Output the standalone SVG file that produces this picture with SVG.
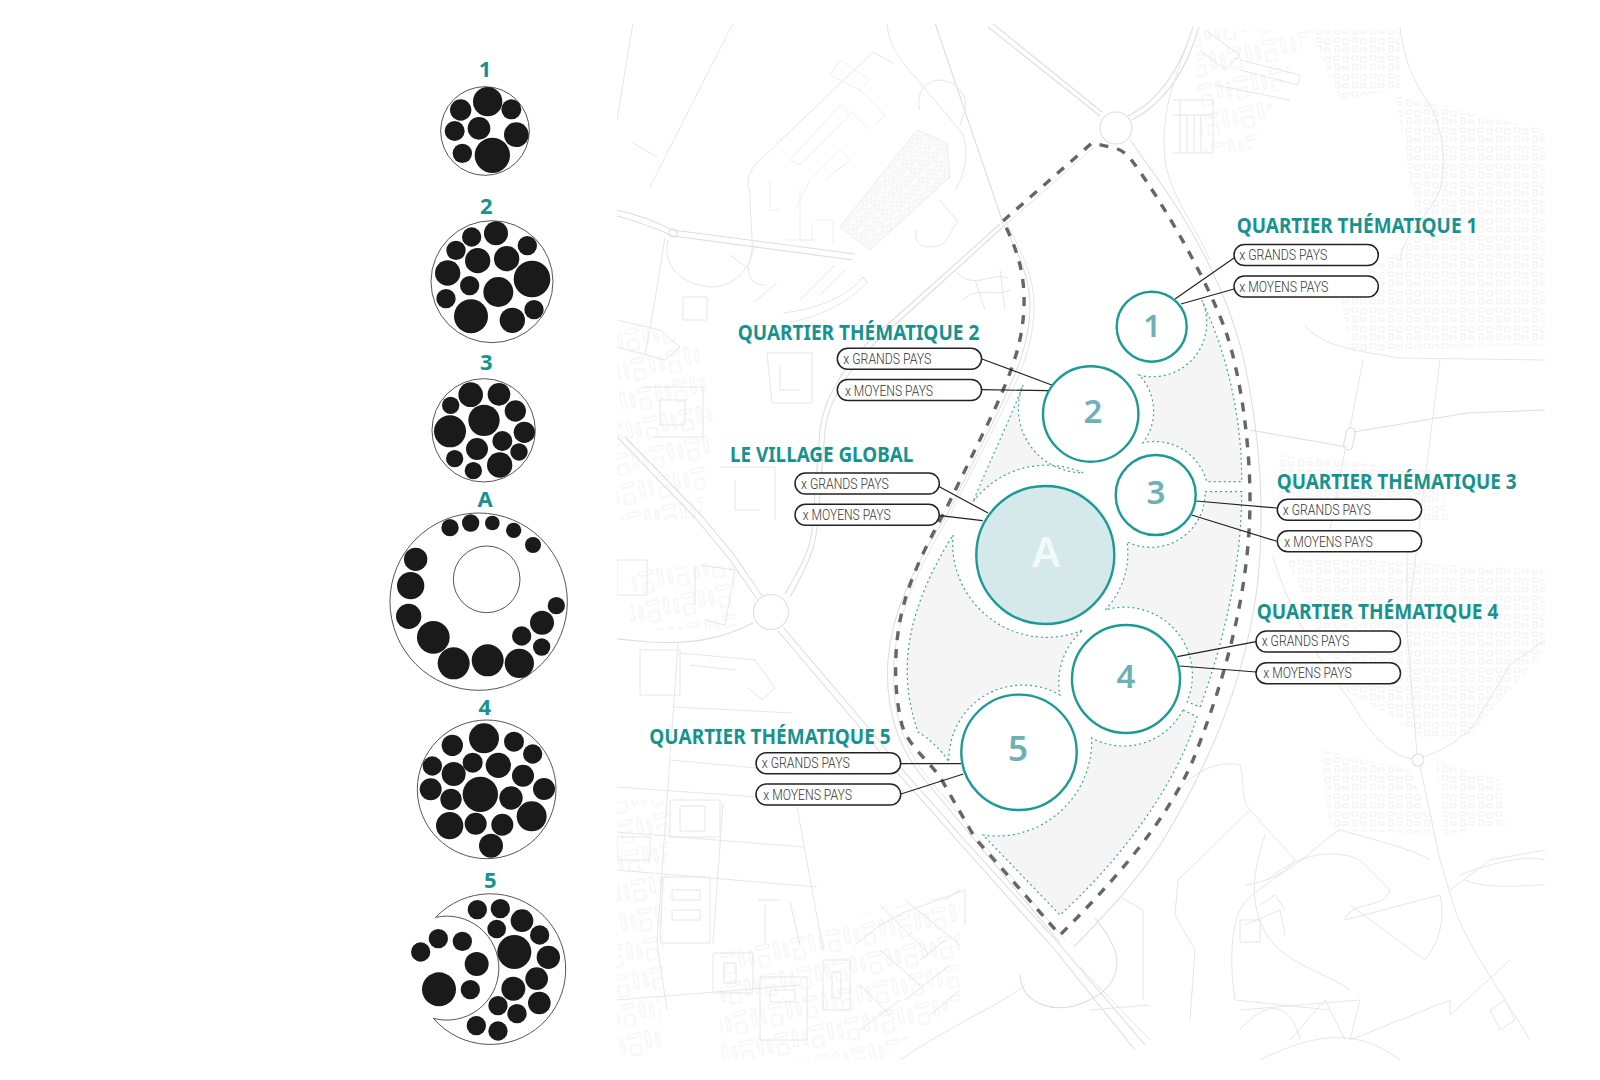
<svg xmlns="http://www.w3.org/2000/svg" width="1600" height="1080" viewBox="0 0 1600 1080">
<style>
.map{fill:none;stroke:#e6e6e6;stroke-width:1}
.road{fill:none;stroke:#dedede;stroke-width:1.1}
.fine{fill:none;stroke:#f0f0f0;stroke-width:1}
.h{font-family:"Noto Sans","Liberation Sans",sans-serif;font-weight:700;font-size:20.5px;fill:#16938f}
.lab{font-family:"Noto Sans","Liberation Sans",sans-serif;font-weight:700;font-size:66px;fill:#16938f;text-anchor:middle}
.p{font-family:Roboto,"Liberation Sans",sans-serif;font-weight:300;font-size:14px;fill:#333}
.pill{fill:#fff;stroke:#222;stroke-width:1.5}
.c{fill:#fff;stroke:#1b9a96;stroke-width:2.4}
.n{font-family:"Noto Sans","Liberation Sans",sans-serif;font-weight:600;fill:#6db1b5;text-anchor:middle}
.reg{fill:#f5f5f5;stroke:#3fa39f;stroke-width:1.2;stroke-dasharray:2 3}
.ln{stroke:#222;stroke-width:1.2;fill:none}
.o{fill:#fff;stroke:#555;stroke-width:3}
.d{fill:#1a1a1a}
</style>
<defs>
<clipPath id="crop"><rect x="617" y="24" width="928" height="1036"/></clipPath>
<pattern id="b1" width="18" height="18" patternUnits="userSpaceOnUse"><path class="fine" d="M2 2h6v4h-6zM11 3h5v5h-5zM3 10h4v6h-4zM10 12h6v3h-6z"/></pattern>
<pattern id="b2" width="12" height="12" patternUnits="userSpaceOnUse" patternTransform="rotate(-42)"><path class="fine" d="M1 1h10v4h-10zM1 7h4v4h-4zM7 7h4v4h-4z"/></pattern>
<pattern id="b3" width="36" height="30" patternUnits="userSpaceOnUse" patternTransform="rotate(-12)"><path class="fine" d="M2 3h13v4h-13zM20 3h4v16h-4zM3 14h10v10h-10zM30 6h3v14h-3z"/></pattern>
</defs>
<rect width="1600" height="1080" fill="#fff"/>

<g id="map" clip-path="url(#crop)">
<g>
<polygon fill="url(#b1)" points="1395,95 1460,110 1545,130 1545,345 1350,352 1340,290 1420,235"/>
<polygon fill="url(#b1)" points="1280,455 1433,470 1450,520 1275,522"/>
<polygon fill="url(#b1)" points="1285,555 1545,570 1545,650 1470,735 1430,740 1345,690"/>
<polygon fill="url(#b1)" points="1320,750 1410,770 1435,835 1330,830"/>
<polygon fill="url(#b1)" points="1435,760 1500,780 1505,825 1445,835"/>
<polygon fill="url(#b2)" stroke="#ececec" points="840,227 870,250 950,177 947,143 917,130"/>
<polygon fill="url(#b3)" points="617,320 700,345 715,420 700,520 617,520"/>
<polygon fill="url(#b3)" points="617,800 670,800 660,1060 617,1060"/>
<polygon fill="url(#b3)" points="720,950 960,890 960,1000 880,1060 720,1060"/>
<polygon fill="url(#b3)" points="630,565 735,565 735,630 630,630"/>
<polygon fill="url(#b3)" points="1195,30 1310,30 1250,150 1200,155"/>
<polygon fill="url(#b1)" points="1310,30 1400,30 1400,90 1340,100"/>
</g>
<g>
<path class="road" d="M992 23L1102 112M988 27L1100 116"/>
<circle class="road" cx="1116" cy="128" r="16"/>
<path class="road" d="M1128 116C1160 100 1180 70 1193 27M1132 120C1165 103 1186 72 1199 27"/>
<path class="road" d="M1130 140L1160 182C1195 232 1232 300 1246 370C1260 440 1265 510 1258 580C1248 670 1212 760 1162 842C1132 888 1102 917 1074 947"/>
<path class="map" d="M1193 27C1175 80 1160 110 1165 160C1170 195 1195 225 1210 260"/>
<path class="map" d="M1005 225L1094 147"/>
<path class="road" d="M1000 224L895 318C855 350 825 390 820 430L813 520C812 545 805 560 785 594M1003 227L898 322C860 354 830 392 825 430L818 520C816 545 810 562 790 597"/>
<path class="road" d="M1002 222C1020 255 1030 280 1030 305C1030 345 1015 375 998 412L947 515C915 565 892 610 888 660C885 705 895 745 925 780L1060 943"/>
<path class="map" d="M1006 222C1024 255 1034 280 1034 305C1034 345 1020 375 1002 412L950 515C920 565 898 610 894 660C891 705 900 745 930 780L1065 940"/>
<path class="road" d="M935 23L1002 220"/>
<path class="map" d="M887 23C888 38 893 50 905 65L962 133C970 150 965 175 955 190"/>
<circle class="road" cx="771" cy="612" r="17.5"/>
<path class="road" d="M757 599L730 560L697 520L617 437M762 596L735 556L702 516L625 437"/>
<path class="road" d="M753 623C720 640 690 644 650 642L617 639"/>
<path class="road" d="M783 627L873 733C900 770 935 805 960 835L1060 945L1145 1045M778 631L868 737C895 773 930 808 955 838L1055 950L1135 1050"/>
<path class="map" d="M1080 967L1150 1040"/>
<path class="road" d="M617 210C640 215 655 222 673 230L855 254M617 216C640 222 655 228 673 236L853 260"/>
<circle class="road" cx="673" cy="233" r="4"/>
<path class="map" d="M668 240C662 265 680 285 712 287C740 285 750 265 755 245M665 237L655 300L645 355"/>
<path class="map" d="M617 120L633 23M650 187L733 23M633 143L657 157"/>
<path class="map" d="M750 193C745 180 750 170 757 163L873 52L893 63M750 193C750 230 755 245 750 260C745 275 752 285 765 285"/>
<path class="fine" d="M790 160L840 105L850 115L800 165zM840 60L870 80L860 90L830 75zM813 177L840 150L850 160L825 180M795 210L810 180M770 180v30h10M800 190v50h12v-15M785 240h30M815 220h18v25M860 90l25 25-10 10M850 110l20 20"/>
<path class="map" d="M920 110C915 95 925 80 940 80C958 82 968 95 965 110L960 125"/>
<path class="map" d="M917 230C912 245 925 250 940 245C950 240 950 230 958 222L940 200"/>
<path class="map" d="M957 273C975 290 990 272 1008 278M962 300C980 285 995 298 1010 290M975 280L985 310M1000 270L1005 310"/>
<path class="map" d="M683 297h24v23h-24zM753 303L777 283M730 255l20 15M783 313C810 310 845 300 863 277L867 283C845 305 815 318 790 322M800 300L835 265M820 295L845 270"/>
<path class="map" d="M617 320L660 330L680 347L665 360L617 347M643 387h60v50h-50M660 400v25h25v-25zM767 353h45v50h-40zM780 365v25h20M720 467h55v53M735 480v30h25"/>
<path class="map" d="M678 643L657 943L667 1010M723 803L713 943M617 787L800 800M617 832L803 847M617 870L817 887M797 807L823 950M673 707L793 713M670 760L800 772M617 1000L800 985"/>
<path class="map" d="M640 650h40v45h-40zM680 653L755 660L775 688L762 700L748 688M690 665L735 670M617 560h30v35h-30zM695 565v40M700 565L735 570L725 625L705 620"/>
<path class="map" d="M670 800h50v37h-50zM680 806h25v25h-25zM663 877h47v66h-50zM672 890h28v10h-28zM672 910h28v10h-28zM617 837h33v23h-33zM713 953h40v40h-40zM724 963h12v20h-12zM760 977h47v63h-47zM770 990h25v12h-25zM823 960h27v50h-27zM832 972h9v26h-9zM758 900h22M765 905v40M790 902L800 945M855 945L880 925L905 912L965 890L965 925"/>
<path class="map" d="M880 905L930 955M905 900L960 945M880 950L920 985M860 985L895 1020M920 960L945 940M905 1000L950 965M930 1015L960 990M860 1030L900 1000M945 900L960 890"/>
<path class="road" d="M1020 975C1022 1005 1055 1015 1085 1002C1115 990 1125 965 1110 940C1105 930 1100 925 1095 918"/>
<path class="map" d="M1025 985C1000 1005 960 1020 900 1060M1090 1010L1150 1005"/>
<path class="road" d="M1250 430L1347 447M1353 432L1467 413L1545 410"/>
<rect class="road" x="1345" y="428" width="9" height="22" rx="4" transform="rotate(12 1350 439)"/>
<path class="map" d="M1363 360L1350 428M1345 450L1330 530M1400 27C1405 70 1420 90 1433 110C1445 140 1445 165 1440 190C1430 215 1405 230 1400 260"/>
<path class="map" d="M1305 325C1320 345 1350 350 1400 358L1545 360M1440 360L1420 520L1407 630"/>
<path class="map" d="M1173 100h40v53h-40M1180 100v53M1187 115v38M1194 115v38M1201 115v38M1173 115h40M1240 60L1300 75L1298 85L1240 70M1215 85L1290 100M1205 30L1240 55L1225 70L1200 50"/>
<circle class="road" cx="1418" cy="760" r="6"/>
<path class="map" d="M1273 557C1290 610 1310 650 1350 700C1370 735 1390 755 1412 759M1423 757C1445 750 1470 735 1480 715L1510 665L1545 640M1417 754L1407 630L1407 553M1420 766L1440 860L1455 910C1470 950 1500 990 1530 1040"/>
<path class="map" d="M1120 897L1143 910L1143 1000M1173 800C1190 770 1220 760 1240 765C1245 780 1240 800 1250 810L1178 880L1175 915L1195 950L1190 1020M1250 810L1295 860M1295 860C1280 880 1250 890 1240 910C1230 930 1230 970 1235 1000L1330 1010M1245 885C1290 880 1320 840 1340 830C1375 840 1415 850 1430 860"/>
<path class="map" d="M1265 835C1250 880 1250 910 1270 940C1290 965 1330 975 1350 990M1268 880C1300 850 1340 850 1360 860L1390 890C1385 910 1350 900 1345 920L1440 895C1445 920 1440 940 1425 960L1350 905"/>
<path class="map" d="M1240 1010L1360 1000L1350 1040L1450 1000L1450 1015M1450 890L1490 860L1545 850M1460 875C1500 860 1530 855 1545 860M1465 880C1490 890 1520 885 1545 885"/>
<path class="map" d="M1240 1030C1265 1000 1290 1000 1300 1040M1290 1040L1325 1000L1345 1040M1260 1060C1320 1030 1360 1030 1400 1060M1450 1015L1510 960M1490 1010L1505 1000L1515 1020L1500 1030z"/>
<path class="map" d="M1240 920h20v22h-20zM1245 925L1280 910L1285 935M1260 905L1275 895L1285 910"/>
</g>
</g>

<g id="zones">
<path class="reg" d="M1201.7 300A54 54 0 0 1 1139 375A52 52 0 0 1 1143 442.7A54 54 0 0 1 1206.7 481.7L1241.7 481.7C1242 420 1228 355 1201.7 300Z"/>
<path class="reg" d="M1205 491.7L1241.7 491.7C1242 560 1225 640 1200 707L1187 701.7A68 68 0 0 0 1105 610A82 82 0 0 0 1127 541.7A54 54 0 0 0 1205 491.7Z"/>
<path class="reg" d="M953 535A94 94 0 0 0 1083 630A68 68 0 0 0 1060 695A74 74 0 0 0 949 762C940 748 928 738 918 732C900 680 900 620 953 535Z"/>
<path class="reg" d="M1183 710L1197 716.7C1175 790 1115 865 1060 915L983 835A95 95 0 0 0 1091.7 738A67 67 0 0 0 1183 710Z"/>
<path class="reg" d="M1023 385A64 64 0 0 0 1083 472.7A92 92 0 0 0 973 502C990 460 1010 420 1023 385Z"/>
</g>

<path id="boundary" fill="none" stroke="#666" stroke-width="3.4" stroke-dasharray="9 9" d="M1003 221L1092 143L1115 148Q1124 151 1130 158C1165 205 1210 285 1227 335C1240 375 1250 440 1250 500C1250 590 1225 680 1193 760C1165 825 1110 885 1060 935L975 838L940 777C925 757 908 745 902 725C893 690 893 640 905 600C915 565 935 530 947 507L993 413C1010 375 1023 345 1024 305C1025 270 1015 245 1003 221"/>

<g id="connectors">
<path class="ln" d="M1234 258L1175 299M1234 289L1181 304"/>
<path class="ln" d="M982 359L1051.7 385M981.7 389.7L1048 390.7"/>
<path class="ln" d="M939.3 486.7L988 513M940 515.7L982.7 520.7"/>
<path class="ln" d="M1277 508L1196 501M1276.7 541.3L1191.7 515"/>
<path class="ln" d="M1256 641.7L1177.3 656.7M1256 672L1180 666"/>
<path class="ln" d="M901 763.7L961 763.7M901 794L963.3 774"/>
</g>

<g id="node-1"><circle class="c" cx="1151.7" cy="326.7" r="35"/><text class="n" x="1152" y="337" font-size="31">1</text></g>
<g id="node-2"><circle class="c" cx="1090.7" cy="414" r="47.7"/><text class="n" x="1093" y="423" font-size="33">2</text></g>
<g id="node-3"><circle class="c" cx="1155.7" cy="495" r="40"/><text class="n" x="1156" y="504" font-size="33">3</text></g>
<g id="node-A"><circle class="c" cx="1045.3" cy="555" r="69" style="fill:#d5e9ea"/><text class="n" x="1046" y="567" font-size="42" style="fill:#f3f9f9">A</text></g>
<g id="node-4"><circle class="c" cx="1126" cy="679" r="54"/><text class="n" x="1126" y="688" font-size="33">4</text></g>
<g id="node-5"><circle class="c" cx="1019" cy="752.3" r="57.7"/><text class="n" x="1018" y="761" font-size="35">5</text></g>

<g id="label-1">
<text class="h" x="1236.7" y="232.7" textLength="240.6" lengthAdjust="spacingAndGlyphs">QUARTIER THÉMATIQUE 1</text>
<rect class="pill" x="1234" y="244.5" width="144.3" height="21" rx="10.5"/><text class="p" x="1239.3" y="260" textLength="88" lengthAdjust="spacingAndGlyphs">x GRANDS PAYS</text>
<rect class="pill" x="1234" y="276" width="144.3" height="21" rx="10.5"/><text class="p" x="1239.3" y="291.7" textLength="89" lengthAdjust="spacingAndGlyphs">x MOYENS PAYS</text>
</g>
<g id="label-2">
<text class="h" x="737.7" y="340" textLength="241.6" lengthAdjust="spacingAndGlyphs">QUARTIER THÉMATIQUE 2</text>
<rect class="pill" x="837.3" y="348.3" width="144.3" height="21" rx="10.5"/><text class="p" x="843.3" y="364" textLength="88" lengthAdjust="spacingAndGlyphs">x GRANDS PAYS</text>
<rect class="pill" x="837.3" y="379.5" width="144.3" height="21" rx="10.5"/><text class="p" x="845" y="395.7" textLength="88" lengthAdjust="spacingAndGlyphs">x MOYENS PAYS</text>
</g>
<g id="label-A">
<text class="h" x="730" y="461.7" textLength="183.3" lengthAdjust="spacingAndGlyphs">LE VILLAGE GLOBAL</text>
<rect class="pill" x="795" y="473" width="144.3" height="21" rx="10.5"/><text class="p" x="801" y="489" textLength="87.7" lengthAdjust="spacingAndGlyphs">x GRANDS PAYS</text>
<rect class="pill" x="795" y="504.3" width="144.3" height="21" rx="10.5"/><text class="p" x="802.7" y="520" textLength="88" lengthAdjust="spacingAndGlyphs">x MOYENS PAYS</text>
</g>
<g id="label-3">
<text class="h" x="1276.7" y="489.3" textLength="240" lengthAdjust="spacingAndGlyphs">QUARTIER THÉMATIQUE 3</text>
<rect class="pill" x="1277.3" y="499.3" width="144.3" height="21" rx="10.5"/><text class="p" x="1282.7" y="515" textLength="88" lengthAdjust="spacingAndGlyphs">x GRANDS PAYS</text>
<rect class="pill" x="1277.3" y="530.8" width="144.3" height="21" rx="10.5"/><text class="p" x="1284.3" y="546.7" textLength="88.4" lengthAdjust="spacingAndGlyphs">x MOYENS PAYS</text>
</g>
<g id="label-4">
<text class="h" x="1256.7" y="619" textLength="241.6" lengthAdjust="spacingAndGlyphs">QUARTIER THÉMATIQUE 4</text>
<rect class="pill" x="1256" y="631" width="144.5" height="21" rx="10.5"/><text class="p" x="1261.7" y="646.3" textLength="87.6" lengthAdjust="spacingAndGlyphs">x GRANDS PAYS</text>
<rect class="pill" x="1256" y="662.7" width="144.5" height="21" rx="10.5"/><text class="p" x="1263.3" y="678" textLength="88.4" lengthAdjust="spacingAndGlyphs">x MOYENS PAYS</text>
</g>
<g id="label-5">
<text class="h" x="649.3" y="744" textLength="241.4" lengthAdjust="spacingAndGlyphs">QUARTIER THÉMATIQUE 5</text>
<rect class="pill" x="756" y="752.7" width="144.7" height="21" rx="10.5"/><text class="p" x="761.7" y="768.3" textLength="88" lengthAdjust="spacingAndGlyphs">x GRANDS PAYS</text>
<rect class="pill" x="756" y="784" width="144.7" height="21" rx="10.5"/><text class="p" x="763.3" y="800" textLength="88.7" lengthAdjust="spacingAndGlyphs">x MOYENS PAYS</text>
</g>

<g id="legend-top" transform="translate(370 50) scale(.33333)">
<g id="legend-1">
<text class="lab" x="345" y="82">1</text>
<circle class="o" cx="345" cy="243" r="133"/>
<g class="d"><circle cx="353" cy="155" r="44"/><circle cx="272" cy="180" r="32"/><circle cx="424" cy="178" r="30"/><circle cx="254" cy="243" r="30"/><circle cx="327" cy="235" r="34"/><circle cx="439" cy="254" r="37"/><circle cx="277" cy="310" r="29"/><circle cx="367" cy="316" r="53"/></g>
</g>
<g id="legend-2">
<text class="lab" x="349" y="492">2</text>
<circle class="o" cx="366" cy="695" r="183"/>
<g class="d"><circle cx="378" cy="550" r="36"/><circle cx="305" cy="561" r="29"/><circle cx="258" cy="601" r="29"/><circle cx="472" cy="587" r="29"/><circle cx="323" cy="632" r="38"/><circle cx="410" cy="626" r="38"/><circle cx="233" cy="669" r="38"/><circle cx="486" cy="687" r="55"/><circle cx="299" cy="707" r="29"/><circle cx="385" cy="726" r="45"/><circle cx="228" cy="746" r="29"/><circle cx="303" cy="799" r="51"/><circle cx="427" cy="811" r="38"/><circle cx="492" cy="779" r="29"/></g>
</g>
<g id="legend-3">
<text class="lab" x="349" y="960">3</text>
<circle class="o" cx="341" cy="1141" r="155"/>
<g class="d"><circle cx="302" cy="1034" r="37"/><circle cx="387" cy="1033" r="34"/><circle cx="242" cy="1066" r="26"/><circle cx="436" cy="1083" r="32"/><circle cx="342" cy="1111" r="47"/><circle cx="240" cy="1144" r="48"/><circle cx="463" cy="1147" r="32"/><circle cx="397" cy="1173" r="30"/><circle cx="321" cy="1197" r="33"/><circle cx="447" cy="1206" r="26"/><circle cx="254" cy="1226" r="26"/><circle cx="389" cy="1245" r="38"/><circle cx="310" cy="1262" r="26"/></g>
</g>
</g>
<g id="legend-A" transform="translate(370 470) scale(.33333)">
<text class="lab" x="345" y="112">A</text>
<circle class="o" cx="326" cy="395" r="266"/>
<circle class="o" cx="350" cy="328" r="100"/>
<g class="d"><circle cx="240" cy="173" r="26"/><circle cx="302" cy="159" r="26"/><circle cx="367" cy="159" r="22"/><circle cx="431" cy="181" r="23"/><circle cx="489" cy="225" r="24"/><circle cx="137" cy="268" r="35"/><circle cx="122" cy="347" r="41"/><circle cx="116" cy="439" r="38"/><circle cx="190" cy="502" r="49"/><circle cx="251" cy="580" r="48"/><circle cx="353" cy="571" r="48"/><circle cx="448" cy="580" r="44"/><circle cx="516" cy="458" r="36"/><circle cx="559" cy="407" r="26"/><circle cx="455" cy="498" r="29"/><circle cx="515" cy="531" r="26"/></g>
</g>
<g id="legend-bottom" transform="translate(370 760) scale(.33333)">
<g id="legend-4">
<text class="lab" x="344" y="-134">4</text>
<circle class="o" cx="350" cy="88" r="208"/>
<g class="d"><circle cx="342" cy="-65" r="45"/><circle cx="247" cy="-44" r="32"/><circle cx="432" cy="-55" r="30"/><circle cx="488" cy="-18" r="29"/><circle cx="187" cy="18" r="29"/><circle cx="251" cy="42" r="36"/><circle cx="308" cy="8" r="30"/><circle cx="385" cy="16" r="38"/><circle cx="459" cy="47" r="33"/><circle cx="182" cy="88" r="33"/><circle cx="243" cy="118" r="32"/><circle cx="331" cy="103" r="53"/><circle cx="423" cy="114" r="35"/><circle cx="522" cy="87" r="33"/><circle cx="485" cy="169" r="45"/><circle cx="239" cy="197" r="41"/><circle cx="317" cy="191" r="33"/><circle cx="397" cy="194" r="33"/><circle cx="363" cy="257" r="36"/></g>
</g>
<g id="legend-5">
<text class="lab" x="361" y="384">5</text>
<path class="o" d="M197 472A226 226 0 1 1 190 775A156 156 0 1 0 197 472Z"/>
<g class="d"><circle cx="322" cy="449" r="29"/><circle cx="391" cy="446" r="29"/><circle cx="456" cy="482" r="34"/><circle cx="380" cy="507" r="28"/><circle cx="509" cy="525" r="29"/><circle cx="433" cy="576" r="51"/><circle cx="535" cy="592" r="35"/><circle cx="500" cy="656" r="34"/><circle cx="430" cy="686" r="36"/><circle cx="384" cy="737" r="29"/><circle cx="508" cy="729" r="34"/><circle cx="441" cy="761" r="29"/><circle cx="319" cy="797" r="29"/><circle cx="384" cy="813" r="29"/><circle cx="205" cy="536" r="29"/><circle cx="277" cy="544" r="29"/><circle cx="152" cy="576" r="29"/><circle cx="320" cy="612" r="36"/><circle cx="207" cy="688" r="51"/><circle cx="301" cy="689" r="29"/></g>
</g>
</g>
</svg>
